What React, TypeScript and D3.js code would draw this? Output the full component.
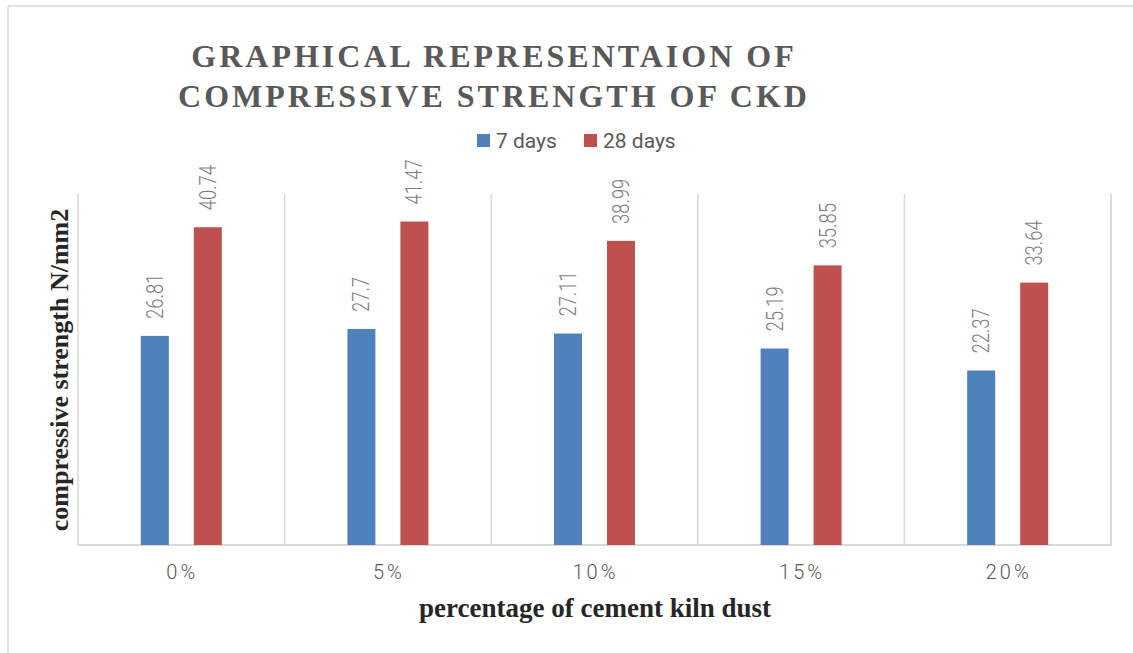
import React from "react";
import * as d3 from "d3";

const categories = ["0%", "5%", "10%", "15%", "20%"];
const seriesNames = ["7 days", "28 days"];
const days7 = [26.81, 27.7, 27.11, 25.19, 22.37];
const days28 = [40.74, 41.47, 38.99, 35.85, 33.64];
const valueLabels7 = ["26.81", "27.7", "27.11", "25.19", "22.37"];
const valueLabels28 = ["40.74", "41.47", "38.99", "35.85", "33.64"];
const colors = ["#4F81BD", "#C0504D"];
const titleLines = ["GRAPHICAL REPRESENTAION OF", "COMPRESSIVE STRENGTH OF CKD"];
const yTitle = "compressive strength N/mm2";
const xTitle = "percentage of cement kiln dust";

export default function App() {
  const W = 1133, H = 653;
  const left = 78, right = 1111, top = 194, bottom = 545;
  const x = d3.scaleBand<string>().domain(categories).range([left, right]).padding(0);
  const bw = x.bandwidth();
  const inner = d3.scaleBand<string>().domain(seriesNames).range([bw / 2 - 53, bw / 2 + 53]).padding(0);
  const barW = 28;
  const y = d3.scaleLinear().domain([0, 45]).range([bottom, top]);
  const series = [days7, days28];
  const labels = [valueLabels7, valueLabels28];
  const serif = "'Liberation Serif', 'Times New Roman', serif";
  const sans = "Roboto, 'Noto Sans', sans-serif";

  return (
    <svg width={W} height={H} style={{ position: "absolute", left: 0, top: 0, background: "#fff" }}>
      {/* outer border */}
      <line x1={8} y1={6} x2={W} y2={6} stroke="#d9d9d9" strokeWidth={1.5} />
      <line x1={8} y1={6} x2={8} y2={H} stroke="#d9d9d9" strokeWidth={1.5} />

      {/* title */}
      {titleLines.map((t, i) => (
        <text key={i} x={494} y={67 + i * 40} textAnchor="middle" fontFamily={serif} fontWeight="bold"
          fontSize={32} letterSpacing={3} fill="#595959">{t}</text>
      ))}

      {/* legend */}
      {seriesNames.map((s, i) => {
        const lx = [477, 584][i];
        return (
          <g key={s}>
            <rect x={lx} y={134} width={13} height={13} fill={colors[i]} />
            <text x={lx + 19} y={148} fontFamily={sans} fontSize={21} fill="#595959">{s}</text>
          </g>
        );
      })}

      {/* grid / category separators */}
      {[...categories.map((c) => x(c)!), right].map((gx, i) => (
        <line key={i} x1={gx} x2={gx} y1={top} y2={bottom} stroke="#d9d9d9" strokeWidth={i === categories.length ? 2 : 1.5} />
      ))}
      <line x1={left} x2={right + 1} y1={bottom} y2={bottom} stroke="#d9d9d9" strokeWidth={2} />

      {/* bars */}
      {series.map((vals, si) =>
        vals.map((v, ci) => {
          const cx = x(categories[ci])! + inner(seriesNames[si])! + inner.bandwidth() / 2;
          return (
            <g key={`${si}-${ci}`}>
              <rect x={cx - barW / 2} y={y(v)} width={barW} height={bottom - y(v)} fill={colors[si]} />
              <text transform={`translate(${cx + 8},${y(v) - 17}) rotate(-90) scale(0.8,1)`}
                fontFamily={sans} fontWeight={300} fontSize={23} fill="#7f7f7f">{labels[si][ci]}</text>
            </g>
          );
        })
      )}

      {/* x tick labels */}
      {categories.map((c) => (
        <text key={c} x={x(c)! + bw / 2 + 1} y={579} textAnchor="middle" fontFamily={sans} fontWeight={300}
          fontSize={20} letterSpacing={3} fill="#595959">{c}</text>
      ))}

      {/* axis titles */}
      <text x={595} y={617} textAnchor="middle" fontFamily={serif} fontWeight="bold" fontSize={27} fill="#262626">{xTitle}</text>
      <text transform={`translate(68,370) rotate(-90)`} textAnchor="middle" fontFamily={serif} fontWeight="bold"
        fontSize={26} fill="#262626">{yTitle}</text>
    </svg>
  );
}
